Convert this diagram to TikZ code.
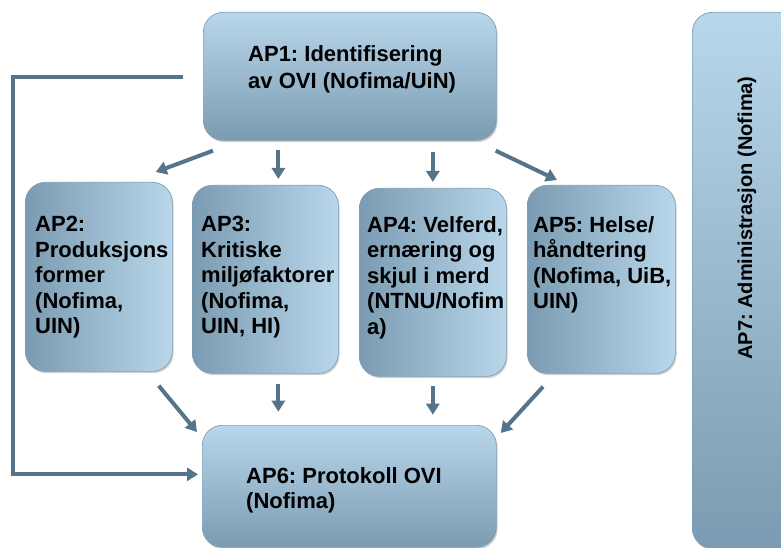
\documentclass[tikz,border=0pt]{standalone}
\usepackage{fontspec}
\setmainfont{Liberation Sans}
\frenchspacing
\usetikzlibrary{arrows.meta,calc,shadows}
\definecolor{lightb}{HTML}{B9D7EB}
\definecolor{darkb}{HTML}{7A9BB1}
\definecolor{edgeb}{HTML}{7F9EB3}
\definecolor{arrc}{HTML}{557489}
\tikzset{
  box/.style={draw=edgeb,line width=0.7pt,rounded corners=20pt,rectangle,anchor=north west,inner sep=0pt,
    drop shadow={shadow xshift=1.2pt,shadow yshift=-1.8pt,fill=black,opacity=0.18}},
  vbox/.style={box,top color=lightb,bottom color=darkb},
  hbox/.style={box,left color=darkb,right color=lightb},
  txt/.style={anchor=north west,inner sep=0pt,align=left,font=\bfseries\fontsize{22}{25.5}\selectfont},
  arr/.style={draw=arrc,line width=4pt,-{Triangle[length=11pt,width=13pt]}},
}
\begin{document}
\begin{tikzpicture}[x=1pt,y=-1pt]
\useasboundingbox (0,0) rectangle (781,548);
% boxes
\node[vbox,minimum width=293pt,minimum height=128pt] (ap1) at (203,12) {};
\node[hbox,minimum width=147pt,minimum height=189pt] (ap2) at (25,182) {};
\node[hbox,minimum width=146pt,minimum height=188pt] (ap3) at (192,185) {};
\node[hbox,minimum width=147pt,minimum height=188pt] (ap4) at (359,188) {};
\node[hbox,minimum width=148pt,minimum height=188pt] (ap5) at (527,185) {};
\node[vbox,minimum width=294pt,minimum height=122pt] (ap6) at (202,425) {};
\node[vbox,minimum width=110pt,minimum height=536pt] (ap7) at (692,12) {};
% texts
\node[txt,font=\bfseries\fontsize{22}{27}\selectfont] (t1) at (248,45) {AP1: Identifisering\\av OVI (Nofima/UiN)};
\node[txt] (t2) at (35,216) {AP2:\\Produksjons\\former\\(Nofima,\\UIN)};
\node[txt] (t3) at (201,216) {AP3:\\Kritiske\\miljøfaktorer\\(Nofima,\\UIN, HI)};
\node[txt] (t4) at (367,216) {AP4: Velferd,\\ernæring og\\skjul i merd\\(NTNU/Nofim\\a)};
\node[txt] (t5) at (533,216) {AP5: Helse/\\håndtering\\(Nofima, UiB,\\UIN)};
\node[txt,font=\bfseries\fontsize{22}{25}\selectfont] (t6) at (246,467) {AP6: Protokoll OVI\\(Nofima)};
\node[rotate=90,inner sep=0pt,font=\bfseries\fontsize{20}{24}\selectfont] (t7) at (747,218) {AP7: Administrasjon (Nofima)};
% arrows
\draw[arr] ($(ap1.south west)+(10,10)$) -- ($(ap2.north east)+(-17,-10)$);
\draw[arr] ($(ap3.north)+(13,-35)$) -- ($(ap3.north)+(13,-6)$);
\draw[arr] ($(ap4.north)+(0,-36)$) -- ($(ap4.north)+(0,-6)$);
\draw[arr] ($(ap1.south east)+(-1,10)$) -- ($(ap5.north west)+(30,-5)$);
\draw[arr] ($(ap2.south east)+(-14,14)$) -- ($(ap6.north west)+(-5,7)$);
\draw[arr] ($(ap3.south)+(13,10)$) -- ($(ap3.south)+(13,38)$);
\draw[arr] ($(ap4.south)+(0,9)$) -- ($(ap4.south)+(0,38)$);
\draw[arr] ($(ap5.south west)+(16,13)$) -- ($(ap6.north east)+(4,8)$);
\coordinate (lp) at ($(ap1.west)+(-20,1)$);
\draw[arr] (lp) -- ++(-170,0) |- ($(ap6.west)+(-4,-12)$);
\end{tikzpicture}
\end{document}
